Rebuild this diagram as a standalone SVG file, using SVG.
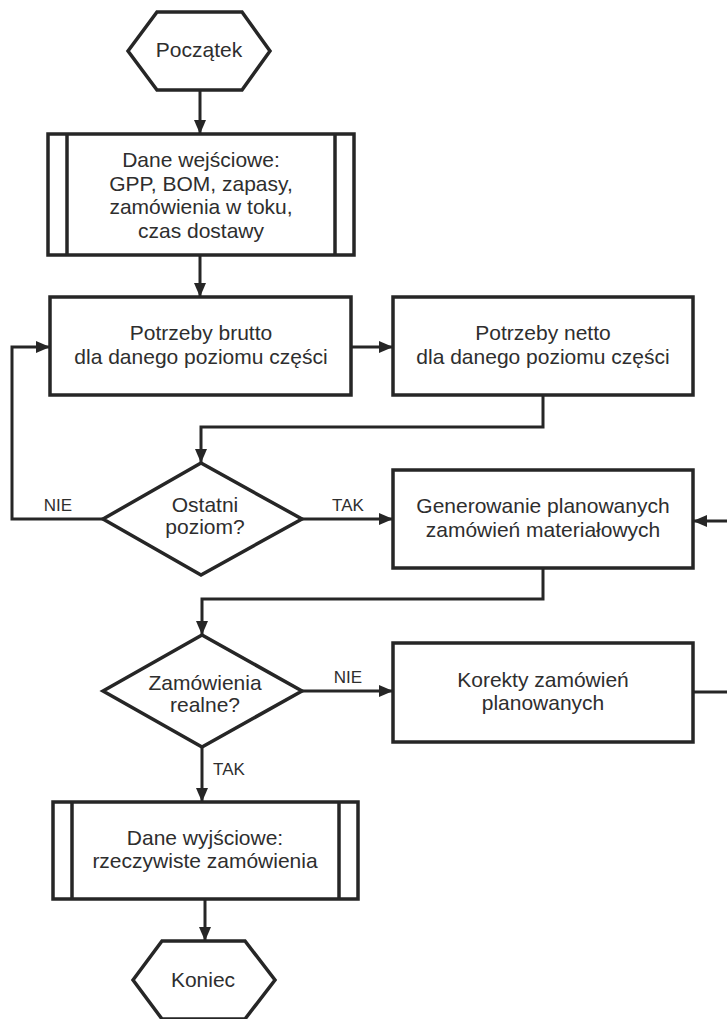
<svg xmlns="http://www.w3.org/2000/svg" width="727" height="1019" viewBox="0 0 727 1019">
  <defs>
    <marker id="arrow" markerUnits="userSpaceOnUse" markerWidth="14" markerHeight="12" refX="14" refY="6" orient="auto">
      <path d="M0,0 L14,6 L0,12 Z" fill="#262626"/>
    </marker>
  </defs>
  <style>
    .shape { fill: #ffffff; stroke: #262626; stroke-width: 3.5; }
    .bar { fill: none; stroke: #262626; stroke-width: 3.5; }
    .conn { fill: none; stroke: #262626; stroke-width: 3; }
    .arr { marker-end: url(#arrow); }
    text { font-family: "Liberation Sans", Arial, sans-serif; font-size: 21px; fill: #2e2e2e; text-anchor: middle; }
    .lbl { font-size: 17px; }
  </style>
  <rect width="727" height="1019" fill="#ffffff"/>

  <!-- connectors -->
  <g id="connectors">
    <line class="conn arr" x1="200" y1="90" x2="200" y2="134"/>
    <line class="conn arr" x1="200" y1="255" x2="200" y2="297"/>
    <line class="conn arr" x1="351" y1="347" x2="393" y2="347"/>
    <polyline class="conn arr" points="543,395 543,427 201,427 201,463"/>
    <polyline class="conn arr" points="103,519 12,519 12,347 50,347"/>
    <line class="conn arr" x1="302" y1="519" x2="393" y2="519"/>
    <polyline class="conn arr" points="543,568 543,599 202,599 202,635"/>
    <line class="conn arr" x1="302" y1="691" x2="393" y2="691"/>
    <polyline class="conn arr" points="693,692 740,692 740,521 693,521"/>
    <line class="conn arr" x1="202" y1="747" x2="202" y2="802"/>
    <line class="conn arr" x1="205" y1="899" x2="205" y2="941"/>
    <text class="lbl" x="58" y="511">NIE</text>
    <text class="lbl" x="348" y="511">TAK</text>
    <text class="lbl" x="348" y="683">NIE</text>
    <text class="lbl" x="229" y="775">TAK</text>
  </g>

  <!-- start terminator -->
  <g id="start">
    <polygon class="shape" points="128,51 157,12 242,12 270,51 242,90 157,90"/>
    <text x="199" y="57">Początek</text>
  </g>

  <!-- input data -->
  <g id="input">
    <rect class="shape" x="48" y="134" width="306" height="121"/>
    <line class="bar" x1="67" y1="134" x2="67" y2="255"/>
    <line class="bar" x1="335" y1="134" x2="335" y2="255"/>
    <text x="201" y="167">Dane wejściowe:</text>
    <text x="201" y="190.5">GPP, BOM, zapasy,</text>
    <text x="201" y="214">zamówienia w toku,</text>
    <text x="201" y="237.5">czas dostawy</text>
  </g>

  <!-- gross requirements -->
  <g id="gross">
    <rect class="shape" x="50" y="297" width="301" height="98"/>
    <text x="201" y="340">Potrzeby brutto</text>
    <text x="201" y="363.5">dla danego poziomu części</text>
  </g>

  <!-- net requirements -->
  <g id="net">
    <rect class="shape" x="393" y="297" width="300" height="98"/>
    <text x="543" y="340">Potrzeby netto</text>
    <text x="543" y="363.5">dla danego poziomu części</text>
  </g>

  <!-- last level decision -->
  <g id="last-level">
    <polygon class="shape" points="103,519 201,463 302,519 201,575"/>
    <text x="205" y="512">Ostatni</text>
    <text x="205" y="534">poziom?</text>
  </g>

  <!-- planned orders -->
  <g id="planned">
    <rect class="shape" x="393" y="470" width="300" height="98"/>
    <text x="543" y="513">Generowanie planowanych</text>
    <text x="543" y="536.5">zamówień materiałowych</text>
  </g>

  <!-- feasibility decision -->
  <g id="feasible">
    <polygon class="shape" points="103,691 202,635 302,691 202,747"/>
    <text x="205" y="690">Zamówienia</text>
    <text x="205" y="712">realne?</text>
  </g>

  <!-- corrections -->
  <g id="corrections">
    <rect class="shape" x="393" y="643" width="300" height="99"/>
    <text x="543" y="687">Korekty zamówień</text>
    <text x="543" y="710">planowanych</text>
  </g>

  <!-- output data -->
  <g id="output">
    <rect class="shape" x="53" y="802" width="305" height="97"/>
    <line class="bar" x1="72" y1="802" x2="72" y2="899"/>
    <line class="bar" x1="339" y1="802" x2="339" y2="899"/>
    <text x="205" y="845">Dane wyjściowe:</text>
    <text x="205" y="868">rzeczywiste zamówienia</text>
  </g>

  <!-- end terminator -->
  <g id="end">
    <polygon class="shape" points="133,980 162,941 245,941 275,980 245,1019 162,1019"/>
    <text x="203" y="987">Koniec</text>
  </g>
</svg>
